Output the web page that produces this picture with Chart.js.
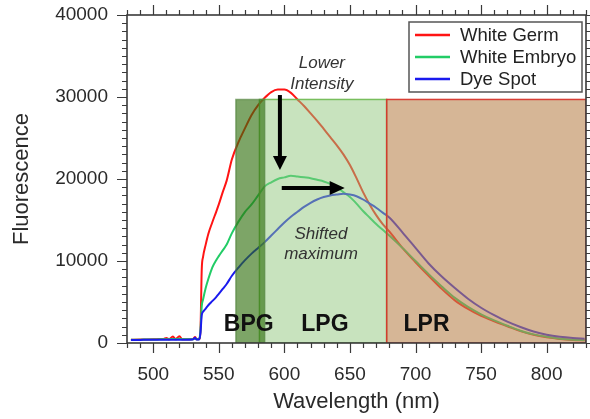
<!DOCTYPE html>
<html><head><meta charset="utf-8">
<script src="https://cdn.jsdelivr.net/npm/chart.js@4"></script>
<style>html,body{margin:0;padding:0;background:#fff;overflow:hidden}#wrap{width:590px;height:419px}</style>
</head><body><div id="wrap"><canvas id="c" width="590" height="419"></canvas></div>
<script>
const wavelengths = [483,490,495,500,505,508,510,512,515,517,520,522,525,530,532,533,535,536,537,538,540,542,545,548,550,553,556,560,565,570,575,580,585,590,595,600,605,610,615,620,625,630,635,640,645,650,655,660,665,670,675,680,690,700,710,720,730,740,750,760,770,780,790,800,810,820,829];
const whiteGerm = [400,420,430,450,480,500,620,450,780,480,820,460,450,460,720,460,480,1500,9000,10500,12000,13300,14700,16000,16900,18400,19800,22400,24500,26200,27800,29000,29900,30600,30900,30900,30500,29700,28900,28000,27100,26100,25100,24100,23000,21700,20100,18400,16900,15600,14500,13600,11600,9850,8200,6600,5200,4150,3300,2650,2050,1450,1000,700,500,380,330];
const whiteEmbryo = [400,410,420,430,450,460,470,450,500,460,520,450,450,450,520,450,460,1500,4500,5300,6700,7800,9200,10100,10600,11300,12000,13400,14800,16000,16900,18000,19100,19600,20000,20200,20400,20300,20200,20100,19900,19700,19400,19000,18400,17800,17000,16100,15300,14500,13800,13100,11600,10000,8400,6900,5500,4400,3500,2750,2100,1500,1050,750,530,400,340];
const dyeSpot = [380,380,390,390,400,400,400,400,410,400,410,400,400,420,650,420,430,1200,3400,3800,4200,4600,5100,5600,6000,6600,7200,8200,9200,10100,10900,11600,12300,13100,13900,14700,15400,16000,16600,17100,17500,17800,18000,18100,18200,18100,17900,17500,17000,16500,15900,15300,13500,11600,9700,8100,6700,5400,4300,3400,2600,1950,1400,1000,750,600,520];
const seriesLabels = ['White Germ','White Embryo','Dye Spot'];
const xTicks = [500,550,600,650,700,750,800];
const yTicks = [0,10000,20000,30000,40000];
const bandLabels = ['LPG','BPG','LPR'];
const bandStart = [581,563,678];
const bandEnd = [678,585,830];
const bandTop = 29700;
const xMin = 480, xMax = 830, yMin = 0, yMax = 40000;

const FONT = "'Liberation Sans', Arial, sans-serif";
const colors = ['#ff1414','#22cc66','#1a1aee'];
const bandFill = ['rgba(145,200,125,0.5)','rgba(45,109,9,0.62)','rgba(187,133,80,0.6)'];
const bandEdge = ['rgba(110,185,80,0.9)','rgba(80,130,60,0.6)','rgba(215,55,45,0.95)'];
const bandTextPos = {BPG:[572.8,2500], LPG:[630.9,2500], LPR:[708.4,2500]};

const overlay = {
  id: 'overlay',
  afterDatasetsDraw(chart) {
    const {ctx, chartArea: a, scales: {x, y}} = chart;
    ctx.save();
    ctx.beginPath(); ctx.rect(a.left, a.top, a.right - a.left, a.bottom - a.top); ctx.clip();
    bandStart.forEach((s, i) => {
      const x0 = x.getPixelForValue(s), x1 = x.getPixelForValue(bandEnd[i]);
      const y0 = y.getPixelForValue(bandTop), y1 = y.getPixelForValue(0);
      ctx.fillStyle = bandFill[i];
      ctx.fillRect(x0, y0, x1 - x0, y1 - y0);
      ctx.strokeStyle = bandEdge[i]; ctx.lineWidth = 1.5;
      ctx.strokeRect(x0, y0, x1 - x0, y1 - y0);
    });
    ctx.restore();
  },
  afterDraw(chart) {
    const {ctx, chartArea: a, scales: {x, y}} = chart;
    ctx.save();
    ctx.strokeStyle = '#3a3a3a'; ctx.lineWidth = 1.6;
    ctx.strokeRect(a.left, a.top, a.right - a.left, a.bottom - a.top);
    ctx.lineWidth = 1.2;
    ctx.beginPath();
    for (let v = xMin; v <= xMax; v += 10) {
      const px = Math.round(x.getPixelForValue(v)) + 0.5;
      const len = v % 50 === 0 ? 10 : 5;
      ctx.moveTo(px, a.bottom); ctx.lineTo(px, a.bottom + len);
      ctx.moveTo(px, a.top); ctx.lineTo(px, a.top - len);
    }
    for (let v = yMin; v <= yMax; v += 1000) {
      const py = Math.round(y.getPixelForValue(v)) + 0.5;
      const len = v % 10000 === 0 ? 10 : 5;
      ctx.moveTo(a.left, py); ctx.lineTo(a.left - len, py);
      ctx.moveTo(a.right, py); ctx.lineTo(a.right + len, py);
    }
    ctx.stroke();

    ctx.fillStyle = '#000'; ctx.strokeStyle = '#000';
    const ax = x.getPixelForValue(596.6), ay0 = y.getPixelForValue(30240), ay1 = y.getPixelForValue(21100);
    ctx.lineWidth = 4;
    ctx.beginPath(); ctx.moveTo(ax, ay0); ctx.lineTo(ax, ay1 - 12); ctx.stroke();
    ctx.beginPath(); ctx.moveTo(ax - 7, ay1 - 14); ctx.lineTo(ax + 7, ay1 - 14); ctx.lineTo(ax, ay1); ctx.closePath(); ctx.fill();
    const hy = y.getPixelForValue(18900), hx0 = x.getPixelForValue(598), hx1 = x.getPixelForValue(646);
    ctx.beginPath(); ctx.moveTo(hx0, hy); ctx.lineTo(hx1 - 12, hy); ctx.stroke();
    ctx.beginPath(); ctx.moveTo(hx1 - 15, hy - 7); ctx.lineTo(hx1 - 15, hy + 7); ctx.lineTo(hx1, hy); ctx.closePath(); ctx.fill();

    ctx.textAlign = 'center'; ctx.textBaseline = 'alphabetic';
    ctx.fillStyle = '#333';
    ctx.font = 'italic 17px ' + FONT;
    const note = (t, xv, yv) => ctx.fillText(t, x.getPixelForValue(xv), y.getPixelForValue(yv) + 6);
    note('Lower', 628.6, 34270);
    note('Intensity', 628.6, 31710);
    note('Shifted', 627.9, 13410);
    note('maximum', 627.9, 10980);
    ctx.fillStyle = '#111';
    ctx.font = 'bold 23px ' + FONT;
    bandLabels.forEach(l => {
      const p = bandTextPos[l];
      ctx.fillText(l, x.getPixelForValue(p[0]), y.getPixelForValue(p[1]) + 8);
    });

    const lx = 409, ly = 22, lw = 173, lh = 70;
    ctx.fillStyle = '#fff'; ctx.fillRect(lx, ly, lw, lh);
    ctx.strokeStyle = '#555'; ctx.lineWidth = 1.5; ctx.strokeRect(lx, ly, lw, lh);
    ctx.font = '18.5px ' + FONT; ctx.textAlign = 'left'; ctx.textBaseline = 'middle';
    chart.data.datasets.forEach((ds, i) => {
      const ry = 35 + i * 22;
      ctx.strokeStyle = ds.borderColor; ctx.lineWidth = 2.5;
      ctx.beginPath(); ctx.moveTo(415, ry); ctx.lineTo(450, ry); ctx.stroke();
      ctx.fillStyle = '#222';
      ctx.fillText(ds.label, 460, ry + 1);
    });
    ctx.restore();
  }
};

const zeroPad = s => { s.paddingTop = 0; s.paddingBottom = 0; s.paddingLeft = 0; s.paddingRight = 0; };
const series = [whiteGerm, whiteEmbryo, dyeSpot];
new Chart(document.getElementById('c'), {
  type: 'line',
  data: {
    datasets: series.map((s, i) => ({
      label: seriesLabels[i],
      data: wavelengths.map((w, j) => ({x: w, y: s[j]})),
      borderColor: colors[i],
      borderWidth: 2,
      pointRadius: 0,
      cubicInterpolationMode: 'monotone',
      order: 3 - i,
      fill: false
    }))
  },
  options: {
    responsive: false,
    animation: false,
    devicePixelRatio: 1,
    layout: {padding: {top: 15, right: 4, left: 0, bottom: 0}},
    plugins: {legend: {display: false}, tooltip: {enabled: false}},
    scales: {
      x: {
        type: 'linear', min: xMin, max: xMax,
        grid: {display: false, drawTicks: false},
        border: {display: false},
        afterBuildTicks: s => { s.ticks = xTicks.map(v => ({value: v})); },
        ticks: {padding: 20, color: '#2a2a2a', font: {family: FONT, size: 19}, callback: v => String(v)},
        title: {display: true, text: 'Wavelength (nm)', color: '#2a2a2a', font: {family: FONT, size: 22}, padding: {top: 0, bottom: 4}},
        afterFit: s => { s.height = 76; zeroPad(s); }
      },
      y: {
        min: yMin, max: yMax,
        grid: {display: false, drawTicks: false},
        border: {display: false},
        afterBuildTicks: s => { s.ticks = yTicks.map(v => ({value: v})); },
        ticks: {padding: 19, color: '#2a2a2a', font: {family: FONT, size: 19}, callback: v => String(v)},
        title: {display: true, text: 'Fluorescence', color: '#2a2a2a', font: {family: FONT, size: 22}, padding: {top: 9, bottom: 0}},
        afterFit: s => { s.width = 127; zeroPad(s); }
      }
    }
  },
  plugins: [overlay]
});
</script>
</body></html>
